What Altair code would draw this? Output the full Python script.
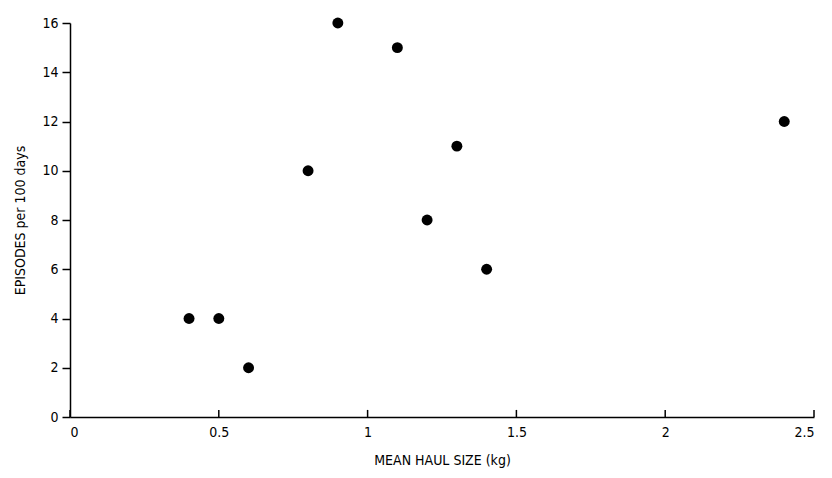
import altair as alt
import pandas as pd

haul_kg = [0.4, 0.5, 0.6, 0.8, 0.9, 1.1, 1.2, 1.3, 1.4, 2.4]
episodes = [4, 4, 2, 10, 16, 15, 8, 11, 6, 12]
x_ticks = [0, 0.5, 1, 1.5, 2, 2.5]
y_ticks = [0, 2, 4, 6, 8, 10, 12, 14, 16]

df = pd.DataFrame({"haul": haul_kg, "episodes": episodes})
tick_df = pd.DataFrame({"tickval": x_ticks, "base": [0] * len(x_ticks)})

FONT = "DejaVu Sans Condensed, Liberation Sans, sans-serif"

xscale = alt.Scale(domain=[0, 2.5], nice=False, zero=True)
yscale = alt.Scale(domain=[0, 16], nice=False)

x_axis = alt.Axis(values=x_ticks, title="MEAN HAUL SIZE (kg)", ticks=False,
                  labelPadding=8, titlePadding=14, grid=False,
                  labelExpr="format(datum.value, '~g')")
y_axis = alt.Axis(values=y_ticks, title="EPISODES per 100 days", tickSize=8,
                  labelPadding=4, titlePadding=14, grid=False)

points = alt.Chart(df).mark_circle(size=120, color="black", opacity=1).encode(
    x=alt.X("haul:Q", scale=xscale, axis=x_axis),
    y=alt.Y("episodes:Q", scale=yscale, axis=y_axis),
)

# inward-pointing x ticks: upward stroke symbols sitting on the x axis
xticks = alt.Chart(tick_df).mark_point(
    shape="M0,0L0,-1", filled=False, stroke="black", strokeWidth=1.5,
    size=200, opacity=1,
).encode(
    x=alt.X("tickval:Q", scale=xscale, axis=x_axis),
    y=alt.Y("base:Q", scale=yscale, axis=y_axis),
)

chart = alt.layer(points, xticks).properties(
    width=744, height=394,
    background="white",
    autosize=alt.AutoSizeParams(type="none"),
    padding={"left": 70, "top": 23, "right": 18, "bottom": 61},
).configure_view(stroke=None).configure_axis(
    domainColor="black", domainWidth=1.5, tickColor="black", tickWidth=1.5,
    labelColor="black", titleColor="black", labelFont=FONT, titleFont=FONT,
    labelFontSize=14, titleFontSize=14, titleFontWeight="normal",
)

chart.save("out.html", embed_options={"renderer": "svg", "actions": False})
